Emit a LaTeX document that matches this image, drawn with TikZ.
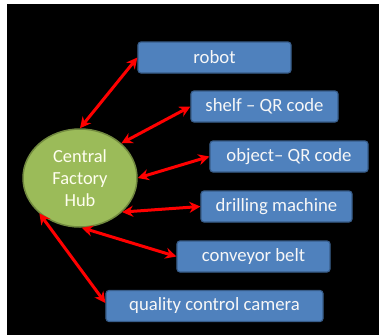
\documentclass[tikz,border=0pt]{standalone}
\usepackage{fontspec}
\setmainfont{Carlito}
\usetikzlibrary{arrows.meta,shapes.geometric}
\definecolor{boxblue}{HTML}{4F81BD}
\definecolor{boxedge}{HTML}{385D8A}
\definecolor{hubgreen}{HTML}{9BBB59}
\definecolor{hubedge}{HTML}{71893F}
\tikzset{
  part/.style={draw=boxedge,fill=boxblue,line width=1.2pt,rounded corners=3pt,
    minimum height=31bp,inner sep=0pt,text=white!94!gray,font=\fontsize{18.8}{22}\selectfont},
  hubnode/.style={ellipse,draw=hubedge,fill=hubgreen,line width=1.5pt,
    minimum width=114bp,minimum height=98bp,inner sep=0pt,align=center,
    text=white!94!yellow,font=\fontsize{18.5}{22}\selectfont},
  link/.style={{Stealth[length=11bp,width=11bp]}-{Stealth[length=11bp,width=11bp]},
    draw=red,line width=3bp}
}

\begin{document}
\begin{tikzpicture}[x=1bp,y=1bp]
    \useasboundingbox (0,0) rectangle (379,-335);
    \fill[black] (7,-4) rectangle (379,-335);
    \node[hubnode] (hub) at (80,-178) {Central\\Factory\\Hub};
    \node[part,minimum width=153bp] (robot) at (214.5,-57.5) {robot};
    \node[part,minimum width=147bp] (shelf) at (264.5,-106.5) {shelf -- QR code};
    \node[part,minimum width=158bp] (object) at (289,-156.5) {object-- QR code};
    \node[part,minimum width=151bp] (drill) at (276.5,-206.5) {drilling machine};
    \node[part,minimum width=153bp] (belt) at (253.5,-256.5) {conveyor belt};
    \node[part,minimum width=217bp] (camera) at (214.5,-306) {quality control camera};
    % links from the hub
    \draw[link] (hub.north) -- (robot.west);
    \draw[link] (hub.40) -- (shelf.west);
    \draw[link] (hub.east) -- (object.west);
    \draw[link] (hub.-39) -- (drill.west);
    \draw[link] (hub.-88) -- (belt.west);
    \draw[link] (hub.-139) -- ([yshift=3bp]camera.west);
  \end{tikzpicture}
\end{document}
